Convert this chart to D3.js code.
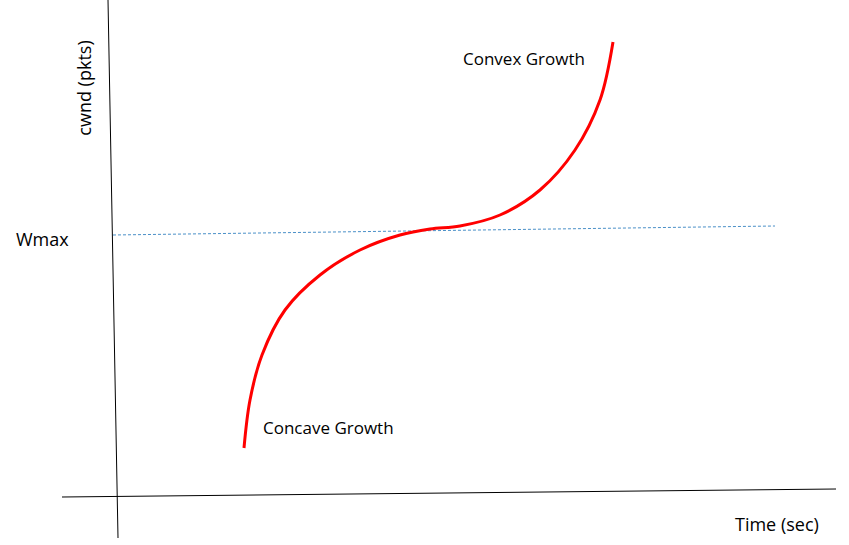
<html>
<head>
<meta charset="utf-8">
<title>CUBIC window growth</title>
<script src="https://d3js.org/d3.v7.min.js"></script>
<style>
  body { margin: 0; background: #fff; }
  text { font-family: "Open Sans", "Liberation Sans", sans-serif; fill: #000; }
</style>
</head>
<body>
<svg id="chart" width="849" height="545"></svg>
<script>
// time offset and cwnd (arbitrary units)
var times = [126, 132, 144, 167, 202, 242, 282, 312, 342, 382, 422, 457, 482, 495];
var cwnd  = [49, 97, 142, 187, 222, 247, 262, 268, 271, 282, 307, 347, 397, 455];
var wmax = 265;
var labels = { x: "Time (sec)", y: "cwnd (pkts)", wmax: "Wmax" };

var svg = d3.select("#chart");
var x = d3.scaleLinear().domain([0, 720]).range([118, 838]);
var y = d3.scaleLinear().domain([0, 500]).range([497, -3]);

// axes, hand-drawn look (slightly tilted)
svg.append("line").attr("x1", 108).attr("y1", 0).attr("x2", 118).attr("y2", 538)
    .attr("stroke", "#000").attr("stroke-width", 1);
svg.append("line").attr("x1", 62).attr("y1", 497).attr("x2", 836).attr("y2", 489)
    .attr("stroke", "#000").attr("stroke-width", 1);

// Wmax reference
svg.append("line")
    .attr("x1", 113).attr("y1", y(wmax) + 3)
    .attr("x2", x(657)).attr("y2", y(wmax) - 6)
    .attr("stroke", "#4a90c8").attr("stroke-width", 1)
    .attr("stroke-dasharray", "3,2");

var pts = times.map(function(t, i) { return [t, cwnd[i]]; });
var line = d3.line()
    .x(function(d) { return x(d[0]); })
    .y(function(d) { return y(d[1]); })
    .curve(d3.curveCatmullRom.alpha(0.5));
svg.append("path").datum(pts).attr("d", line)
    .attr("fill", "none").attr("stroke", "#ff0000").attr("stroke-width", 3);

svg.append("text").attr("x", 463).attr("y", 65).attr("font-size", 17).text("Convex Growth");
svg.append("text").attr("x", 263).attr("y", 434).attr("font-size", 17).text("Concave Growth");
svg.append("text").attr("x", 16).attr("y", 246).attr("font-size", 18).text(labels.wmax);
svg.append("text").attr("x", 735).attr("y", 531).attr("font-size", 18).text(labels.x);
svg.append("text").attr("transform", "translate(91,88) rotate(-90)")
    .attr("text-anchor", "middle").attr("font-size", 18).text(labels.y);
</script>
</body>
</html>
